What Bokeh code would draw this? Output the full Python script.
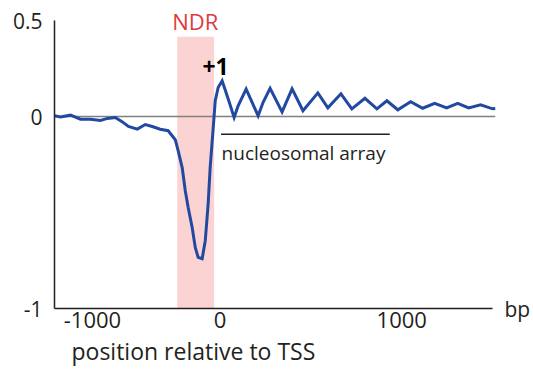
from bokeh.plotting import figure
from bokeh.models import Label, BoxAnnotation, FixedTicker, Range1d, LinearAxis, Title
from bokeh.embed import file_html
from bokeh.resources import INLINE

# position relative to TSS (bp) and relative occupancy
pos_bp = [-912, -879, -824, -769, -714, -659, -621, -577, -538, -505, -456, -412,
          -374, -330, -286, -247, -231, -209, -192, -176, -154, -137, -121, -99,
          -82, -66, -55, -38, -27, -11, 11, 44, 77, 99, 143, 176, 209, 236, 275,
          341, 396, 456, 538, 593, 665, 725, 797, 863, 918, 978, 1049, 1115, 1181,
          1247, 1308, 1368, 1434, 1500, 1516]
occupancy = [0.004, -0.003, 0.007, -0.014, -0.014, -0.021, -0.010, -0.005, -0.028,
             -0.052, -0.066, -0.042, -0.052, -0.066, -0.074, -0.121, -0.179, -0.266,
             -0.387, -0.474, -0.578, -0.682, -0.734, -0.741, -0.647, -0.455, -0.266,
             -0.057, 0.082, 0.151, 0.186, 0.092, -0.005, 0.056, 0.143, 0.073, 0.004,
             0.073, 0.147, 0.024, 0.144, 0.030, 0.123, 0.045, 0.118, 0.040, 0.095,
             0.040, 0.082, 0.035, 0.077, 0.043, 0.069, 0.045, 0.069, 0.045, 0.061,
             0.040, 0.042]

x_ticks = [-703, 0, 1000]
x_tick_labels = ["-1000", "0", "1000"]
y_ticks = [-1, 0, 0.5]
y_tick_labels = ["-1", "0", "0.5"]
x_axis_end = 1500

ndr_start, ndr_end, ndr_top = -236, -33, 0.415
array_start, array_end, array_y = 5, 934, -0.093

FONT = "Open Sans"
TXT = "#231f20"

p = figure(width=533, height=373, output_backend="svg", toolbar_location=None,
           x_range=Range1d(-912, 1516), y_range=Range1d(-1, 0.5625),
           min_border_left=54, min_border_right=37, min_border_top=8,
           min_border_bottom=65)
p.outline_line_color = None
p.grid.visible = False
p.background_fill_color = "white"
p.border_fill_color = "white"

# NDR shading
p.add_layout(BoxAnnotation(left=ndr_start, right=ndr_end, top=ndr_top, bottom=-1,
                           fill_color="#fbd3d3", fill_alpha=1.0, line_color=None,
                           level="underlay"))

# zero line
p.line([pos_bp[0], pos_bp[-1]], [0, 0], line_color="#808080", line_width=1.5)

p.line(pos_bp, occupancy, line_color="#2149a0", line_width=3, line_join="miter")

# nucleosomal array bar
p.line([array_start, array_end], [array_y, array_y], line_color=TXT, line_width=1.5)


def style(ax, size="21px"):
    ax.major_tick_line_color = None
    ax.minor_tick_line_color = None
    ax.major_tick_out = 0
    ax.major_tick_in = 0
    ax.minor_tick_out = 0
    ax.minor_tick_in = 0
    ax.axis_line_color = TXT
    ax.axis_line_width = 1.5
    ax.major_label_text_font = FONT
    ax.major_label_text_font_size = size
    ax.major_label_text_color = TXT


style(p.xaxis[0], "22px")
style(p.yaxis[0])
p.xaxis[0].ticker = FixedTicker(ticks=x_ticks)
p.xaxis[0].major_label_overrides = {t: l for t, l in zip(x_ticks, x_tick_labels)}
p.xaxis[0].major_label_standoff = 3
p.xaxis[0].bounds = (pos_bp[0], x_axis_end)
p.yaxis[0].ticker = FixedTicker(ticks=y_ticks)
p.yaxis[0].major_label_overrides = {t: l for t, l in zip(y_ticks, y_tick_labels)}
p.yaxis[0].major_label_standoff = 12
p.yaxis[0].bounds = (y_ticks[0], y_ticks[-1])

# "bp" unit label at the end of the x axis
bp_axis = LinearAxis(ticker=FixedTicker(ticks=[y_ticks[0]]),
                     major_label_overrides={y_ticks[0]: "bp"})
style(bp_axis)
bp_axis.axis_line_color = None
bp_axis.major_label_standoff = 9
p.add_layout(bp_axis, "right")

p.add_layout(Title(text="position relative to TSS", align="left", offset=17,
                   text_font=FONT, text_font_size="23px", text_font_style="normal",
                   text_color=TXT, standoff=4), "below")

p.add_layout(Label(x=-137, y=0.5, text="NDR", text_font=FONT, text_font_size="22px",
                   text_color="#e03a3a", text_align="center", text_baseline="middle"))
p.add_layout(Label(x=-25, y=0.259, text="+1", text_font=FONT, text_font_size="23px",
                   text_font_style="bold", text_color="black", text_align="center",
                   text_baseline="middle"))
p.add_layout(Label(x=array_start + 3, y=-0.19, text="nucleosomal array", text_font=FONT,
                   text_font_size="19px", text_color=TXT, text_align="left",
                   text_baseline="middle"))

open("out.html", "w").write(file_html(p, INLINE))
